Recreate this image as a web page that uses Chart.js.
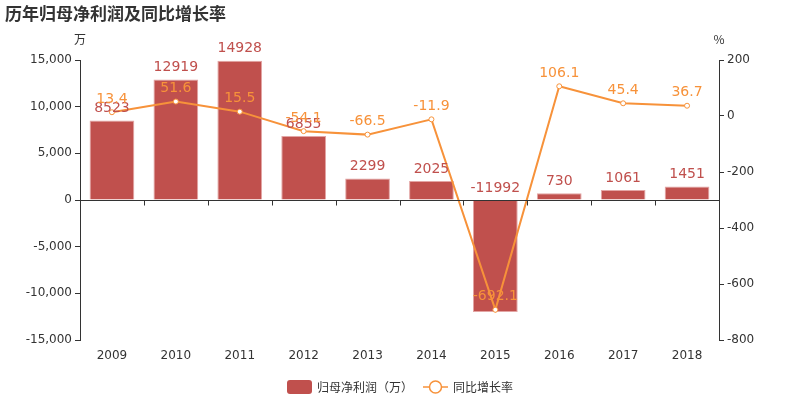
<!DOCTYPE html>
<html>
<head>
<meta charset="utf-8">
<script src="https://cdn.jsdelivr.net/npm/chart.js@4/dist/chart.umd.min.js"></script>
<style>
  html, body { margin: 0; padding: 0; background: #fff; }
  #wrap { width: 800px; height: 400px; position: relative; }
</style>
</head>
<body>
<div id="wrap"><canvas id="chart" width="800" height="400"></canvas></div>
<script>
const years = ['2009', '2010', '2011', '2012', '2013', '2014', '2015', '2016', '2017', '2018'];
const netProfit = [8523, 12919, 14928, 6855, 2299, 2025, -11992, 730, 1061, 1451];
const growthRate = [13.4, 51.6, 15.5, -54.1, -66.5, -11.9, -692.1, 106.1, 45.4, 36.7];

const TITLE = '历年归母净利润及同比增长率';
const BAR_LABEL = '归母净利润（万）';
const LINE_LABEL = '同比增长率';
const LEFT_UNIT = '万';
const RIGHT_UNIT = '%';

const COLORS = {
  bar: '#c0504d',
  barBorder: '#e3a5a4',
  line: '#f7923a',
  text: '#333333',
  axis: '#333333'
};

const FONT = 'DejaVu Sans, sans-serif';
const CJK_FONT = '"Noto Sans CJK SC", "DejaVu Sans", sans-serif';

function formatThousands(value) {
  return Number(value).toLocaleString('en-US');
}

const decorPlugin = {
  id: 'decor',
  afterDraw(chart) {
    const { ctx, chartArea } = chart;
    const x = chart.scales.x;
    const y = chart.scales.y;
    const zeroY = Math.round(y.getPixelForValue(0)) + 0.5;
    const barMeta = chart.getDatasetMeta(0);
    const lineMeta = chart.getDatasetMeta(1);

    ctx.save();

    // zero line with category ticks
    ctx.strokeStyle = COLORS.axis;
    ctx.lineWidth = 1;
    ctx.beginPath();
    ctx.moveTo(chartArea.left, zeroY);
    ctx.lineTo(chartArea.right, zeroY);
    const step = x.getPixelForValue(1) - x.getPixelForValue(0);
    for (let i = 1; i < years.length; i++) {
      const tx = Math.round(x.getPixelForValue(i) - step / 2) + 0.5;
      ctx.moveTo(tx, zeroY);
      ctx.lineTo(tx, zeroY + 5);
    }
    ctx.stroke();

    // bar value labels
    ctx.font = '14px ' + FONT;
    ctx.textAlign = 'center';
    ctx.textBaseline = 'bottom';
    ctx.fillStyle = COLORS.bar;
    barMeta.data.forEach((bar, i) => {
      const top = Math.min(bar.y, bar.base);
      ctx.fillText(String(netProfit[i]), bar.x, top - 5);
    });

    // line value labels
    ctx.fillStyle = COLORS.line;
    lineMeta.data.forEach((pt, i) => {
      ctx.fillText(String(growthRate[i]), pt.x, pt.y - 6);
    });

    // title
    ctx.textAlign = 'left';
    ctx.textBaseline = 'middle';
    ctx.fillStyle = COLORS.text;
    ctx.font = 'bold 17px ' + CJK_FONT;
    ctx.fillText(TITLE, 5, 14);

    // units
    ctx.font = '12px ' + CJK_FONT;
    ctx.textAlign = 'center';
    ctx.fillText(LEFT_UNIT, chartArea.left, 39);
    ctx.fillText(RIGHT_UNIT, chartArea.right, 39);

    // legend
    const ly = 387;
    ctx.fillStyle = COLORS.bar;
    ctx.beginPath();
    ctx.roundRect(287, ly - 7, 25, 14, 3);
    ctx.fill();
    ctx.fillStyle = COLORS.text;
    ctx.font = '12px ' + CJK_FONT;
    ctx.textAlign = 'left';
    ctx.fillText(BAR_LABEL, 317, ly);

    ctx.strokeStyle = COLORS.line;
    ctx.lineWidth = 1.5;
    ctx.beginPath();
    ctx.moveTo(423, ly);
    ctx.lineTo(448, ly);
    ctx.stroke();
    ctx.fillStyle = '#fff';
    ctx.beginPath();
    ctx.arc(435.5, ly, 6, 0, Math.PI * 2);
    ctx.fill();
    ctx.stroke();
    ctx.fillStyle = COLORS.text;
    ctx.fillText(LINE_LABEL, 453, ly);

    ctx.restore();
  }
};

const axisGrid = {
  drawOnChartArea: false,
  drawTicks: true,
  tickLength: 5,
  color: COLORS.axis
};

new Chart(document.getElementById('chart'), {
  data: {
    labels: years,
    datasets: [
      {
        type: 'bar',
        label: BAR_LABEL,
        data: netProfit,
        yAxisID: 'y',
        backgroundColor: COLORS.bar,
        borderColor: COLORS.barBorder,
        borderWidth: 1,
        categoryPercentage: 1,
        barPercentage: 0.7,
        order: 2
      },
      {
        type: 'line',
        label: LINE_LABEL,
        data: growthRate,
        yAxisID: 'y1',
        borderColor: COLORS.line,
        borderWidth: 2,
        pointBackgroundColor: '#fff',
        pointBorderColor: COLORS.line,
        pointBorderWidth: 1,
        pointRadius: 2.5,
        tension: 0,
        order: 1
      }
    ]
  },
  options: {
    responsive: false,
    animation: false,
    layout: { padding: { top: 60, bottom: 0, left: 0, right: 0 } },
    plugins: {
      legend: { display: false },
      tooltip: { enabled: false }
    },
    scales: {
      x: {
        grid: { display: false },
        border: { display: false },
        ticks: { color: COLORS.text, font: { family: FONT, size: 12 }, padding: 1 },
        afterFit(scale) { scale.height = 60; }
      },
      y: {
        position: 'left',
        min: -15000,
        max: 15000,
        grid: axisGrid,
        border: { display: true, color: COLORS.axis },
        ticks: {
          stepSize: 5000,
          padding: 3,
          color: COLORS.text,
          font: { family: FONT, size: 12 },
          callback: (v) => formatThousands(v)
        },
        afterFit(scale) { scale.width = 80; }
      },
      y1: {
        position: 'right',
        min: -800,
        max: 200,
        grid: axisGrid,
        border: { display: true, color: COLORS.axis },
        ticks: { stepSize: 200, padding: 3, color: COLORS.text, font: { family: FONT, size: 12 } },
        afterFit(scale) { scale.width = 81; }
      }
    }
  },
  plugins: [decorPlugin]
});
</script>
</body>
</html>
